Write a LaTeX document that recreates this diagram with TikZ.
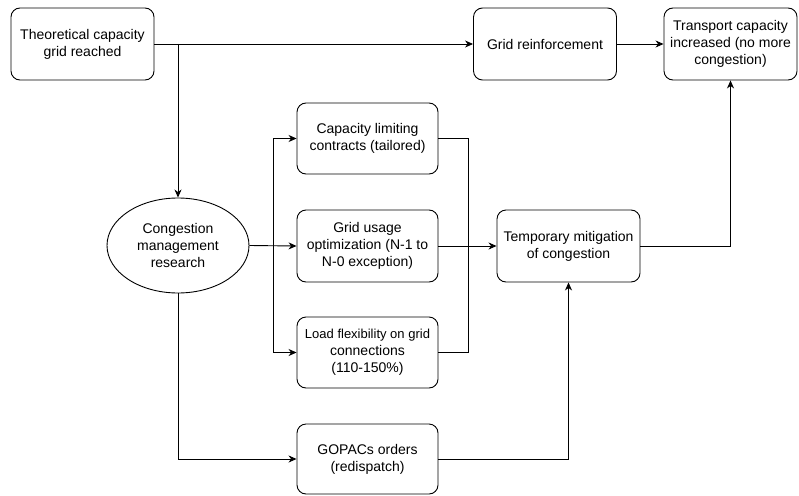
\documentclass[tikz,border=0pt]{standalone}
\usepackage{fontspec}
\setmainfont{Liberation Sans}
\usetikzlibrary{arrows.meta,shapes.geometric}
\begin{document}
\begin{tikzpicture}[x=1pt,y=-1pt,
  box/.style={draw,rounded corners=9pt,line width=0.9pt,minimum width=143pt,minimum height=72pt,align=center,inner sep=1pt,font=\fontsize{14}{17}\selectfont},
  oval/.style={draw,ellipse,line width=0.9pt,minimum width=142pt,minimum height=95pt,align=center,inner sep=0pt,font=\fontsize{14}{17}\selectfont},
  conn/.style={line width=0.9pt},
  arr/.style={conn,-{Stealth[length=8pt,width=7pt,inset=2.5pt]}}]
\useasboundingbox (0,0) rectangle (799,495);
\node[box] (theo) at (82.5,44) {Theoretical capacity\\grid reached};
\node[box] (reinf) at (545,44) {Grid reinforcement};
\node[box,minimum width=133pt] (trans) at (730.5,44) {Transport capacity\\increased (no more\\congestion)};
\node[oval] (cmr) at (178,245.5) {Congestion\\management\\research};
\node[box,minimum width=141pt,minimum height=71pt] (clc) at (367.5,138.5) {Capacity limiting\\contracts (tailored)};
\node[box,minimum width=141pt] (gu) at (367.5,246) {Grid usage\\optimization (N-1 to\\N-0 exception)};
\node[box,minimum width=141pt,minimum height=71pt] (lf) at (367.5,352.5) {{\fontsize{13}{17}\selectfont Load flexibility on grid}\\connections\\(110-150\%)};
\node[box,minimum width=141pt,minimum height=70pt] (gop) at (367.5,459) {GOPACs orders\\(redispatch)};
\node[box] (tmp) at (568.5,246) {Temporary mitigation\\of congestion};
\coordinate (split) at (273,246);
\coordinate (merge) at (468,246);
\coordinate (br) at (178,44);
\draw[arr] (theo.east) -- (reinf.west);
\draw[arr] (br) -- (cmr.north);
\draw[arr] (reinf.east) -- (trans.west);
\draw[arr] (cmr.east) -- (gu.west);
\draw[arr] (split) |- (clc.west);
\draw[arr] (split) |- (lf.west);
\draw[conn] (clc.east) -| (merge);
\draw[conn] (lf.east) -| (merge);
\draw[arr] (gu.east) -- (tmp.west);
\draw[arr] (tmp.east) -| (trans.south);
\draw[arr] (cmr.south) |- (gop.west);
\draw[arr] (gop.east) -| (tmp.south);
\end{tikzpicture}
\end{document}
